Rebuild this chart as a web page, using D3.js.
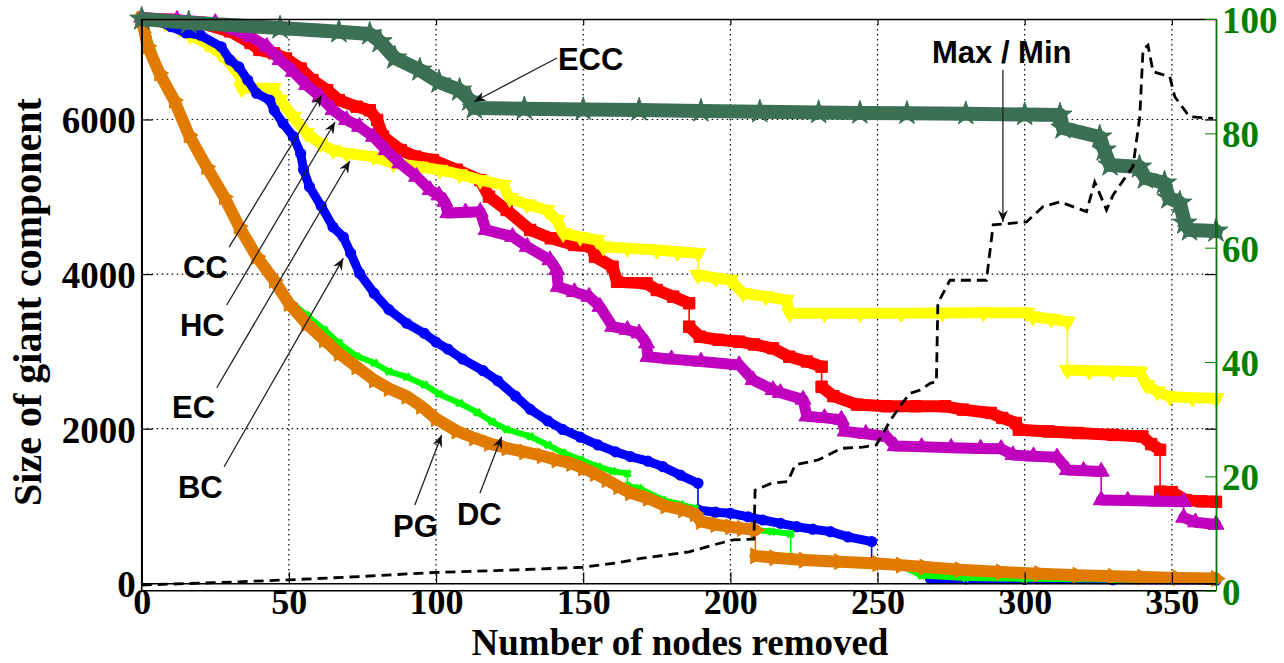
<!DOCTYPE html>
<html>
<head>
<meta charset="utf-8">
<script src="https://cdn.jsdelivr.net/npm/d3@7"></script>
<style>
  body { margin: 0; background: #fff; }
  svg text { font-family: 'Liberation Serif', 'Times New Roman', serif; font-weight: bold; }
  svg text.ann { font-family: 'Liberation Sans', Arial, sans-serif; }
</style>
</head>
<body>
<svg id="chart" width="1284" height="663"></svg>
<script>
// data: [nodes removed, size of giant component]
var ecc = [[0,7300],[16,7252],[47,7184],[67,7136],[77.5,7106],[81,7006],[86,6796],[94.5,6640],[101,6485],[108,6381],[111.5,6252],[113,6149],[130,6140],[150,6130],[169,6123],[190,6110],[210,6100],[230,6090],[244,6084],[260,6080],[280,6075],[300,6065],[312,6058],[313,5890],[325.5,5774],[327,5606],[329,5412],[339,5386],[341,5243],[347.5,5179],[349,4985],[352.7,4920],[354.4,4661],[356,4571],[365,4558]]

var cc = [[0,7300],[10,7290],[20,7250],[30,7140],[37,6990],[40,6900],[45,6856],[49,6790],[54,6660],[58,6510],[63,6380],[67,6250],[73,6166],[77.5,6120],[80,5994],[82,5780],[88,5605],[93,5520],[99,5476],[107,5350],[115,5217],[118,5002],[124,4829],[132,4571],[139,4463],[147,4377],[153,4354],[154,4225],[160,4096],[161.5,3900],[171.5,3880],[175,3794],[180.6,3708],[186,3622],[186,3320],[189.6,3190],[196,3150],[203,3126],[208,3090],[214.5,3040],[220,2931],[226,2870],[231,2802],[231,2543],[235,2421],[243,2312],[253,2290],[263,2290],[273,2290],[279,2247],[288.5,2204],[292.4,2139],[297,2074],[298,1987],[308,1965],[318,1944],[330,1920],[340,1900],[343,1800],[346,1727],[346,1185],[350,1180],[354.8,1076],[360,1060],[365,1054]]

var hc = [[0,7320],[12,7290],[25,7250],[37,7071],[42.5,6942],[47,6770],[51.5,6618],[56,6446],[60.6,6295],[65,6123],[69.6,5994],[74,5907],[78.7,5778],[83,5605],[87.7,5433],[93.4,5260],[98,5088],[101,5020],[103,4937],[104,4790],[110,4800],[115,4807],[117,4571],[126,4484],[131,4354],[138.7,4182],[141,4053],[141.5,3837],[147,3770],[152,3708],[155.7,3578],[160,3320],[165,3280],[169,3234],[171.5,3105],[172,2931],[180,2900],[190,2870],[203,2824],[207.7,2630],[214.5,2501],[217,2464],[224.7,2377],[226,2160],[232,2140],[237.7,2117],[239,1965],[246,1935],[253,1900],[256,1775],[265,1765],[275,1755],[285,1745],[292,1740],[296,1660],[303,1645],[311,1630],[314.5,1466],[320,1455],[326,1445],[326,1076],[335,1070],[345,1060],[354,1055],[354,850],[358,790],[365,760]]

var ec = [[0,7300],[8,7250],[13,7180],[16.4,7093],[22,6986],[26.6,6856],[30,6727],[33.4,6554],[34,6403],[40,6403],[44.7,6403],[47,6252],[51.5,6036],[56,5821],[60.6,5692],[65,5605],[69.6,5563],[78.7,5519],[85.5,5433],[94.5,5389],[101.3,5347],[108,5290],[115,5217],[122.8,5153],[125,4980],[131,4900],[137.6,4829],[141,4700],[143.2,4528],[149,4480],[154.6,4441],[156.8,4354],[165,4335],[175,4312],[182,4290],[189,4269],[189,3988],[195,3950],[200,3924],[204.3,3752],[212,3710],[219,3665],[220.2,3493],[232,3493],[244,3493],[258,3495],[272,3497],[286,3500],[300.6,3500],[302.8,3449],[309,3420],[314.5,3384],[314.5,2759],[322,2750],[330,2745],[339.1,2737],[341.4,2565],[345,2480],[349.3,2414],[357,2400],[365,2393]]

var bc = [[0,7300],[5,7280],[10,7200],[15,7120],[20,7090],[27,6940],[30,6770],[33,6680],[36,6510],[39,6340],[43.5,6250],[45,6120],[48,5950],[51.5,5780],[54,5560],[55,5350],[57,5130],[61,4880],[65,4610],[68.5,4480],[71,4270],[74,4010],[79,3750],[84,3540],[90,3364],[96,3234],[100,3120],[104,3030],[109,2900],[116,2750],[121,2620],[127,2420],[132,2250],[138,2100],[143,1990],[149,1890],[155,1790],[161,1700],[166,1640],[172,1580],[177,1510],[183,1400],[189,1294],[189,950],[195,920],[200,906],[206,860],[211,819],[217,775],[222.5,732],[228,700],[234,668],[240,600],[248,540],[248,270],[258,232],[266,205],[268,60],[280,58],[300,52],[330,45],[365,40]]

var dc = [[0,7300],[2,7100],[6,6650],[11,6300],[16,5830],[22,5420],[28,5030],[33,4650],[39,4260],[45,3950],[50,3660],[56,3470],[62,3280],[67,3110],[73,2940],[79,2850],[84,2740],[90,2670],[96,2570],[101,2450],[108,2330],[114,2210],[119,2091],[124,1990],[132,1900],[138,1790],[143,1690],[149,1600],[155,1510],[160,1450],[165,1420],[165,1260],[169,1230],[177,1080],[183,1020],[188,970],[190,820],[200,740],[208,690],[214,670],[220.5,640],[220.5,340],[230,300],[240,275],[250,250],[258,228],[265,100],[280,68],[300,58],[330,48],[365,40]]

var pg = [[0,7300],[2,6950],[6,6600],[11,6250],[16,5800],[22,5390],[28,5000],[33,4620],[39,4230],[45,3920],[50,3620],[56,3360],[62,3150],[67,2975],[73,2800],[79,2630],[84,2520],[90,2420],[95,2290],[100,2130],[107,1970],[113,1880],[118,1810],[124,1750],[130,1700],[136,1650],[141,1595],[146,1550],[150,1490],[154,1420],[158,1340],[162,1250],[166,1170],[172,1100],[178,1000],[184,950],[188,900],[190,800],[195,760],[200,730],[204,710],[208.5,690],[208.5,355],[215,330],[225,300],[237,280],[250,255],[258,235],[266,210],[278,175],[292,145],[305,125],[318,105],[330,90],[340,80],[352,70],[365,62]]

// right axis: [nodes removed, max / min]
var maxMin = [[0,1.0],[25,1.4],[50,1.9],[75,2.5],[100,3.2],[125,3.6],[150,4.1],[162,4.9],[169,5.6],[186,6.8],[193.5,7.9],[201,8.9],[208,9.0],[208.4,17.6],[214,18.8],[219.5,19.1],[222,22],[230,22.9],[237.7,24.9],[245,25.1],[249.6,25.5],[254.5,29.9],[258,32.5],[261,34.5],[264.5,35.1],[268,36.3],[270,36.5],[270.5,50.3],[274.6,54.3],[287,54.3],[289.3,64],[300.6,64.5],[306.3,67.2],[312,68],[321,66.3],[323.8,71.5],[327.8,66.6],[330,69.2],[336.8,74.2],[339.1,82.9],[340.2,94.6],[341.9,95.4],[343.6,90.8],[349.3,89.9],[351,86.4],[356,82.9],[364,82.6]]

var xTicks = [0, 50, 100, 150, 200, 250, 300, 350]
var yTicks = [0, 2000, 4000, 6000]
var yRightTicks = [0, 20, 40, 60, 80, 100]

var svg = d3.select('#chart')

var x = d3.scaleLinear().domain([0, 365]).range([141.7, 1216])
var y = d3.scaleLinear().domain([0, 7300]).range([583.3, 19])
var yRight = d3.scaleLinear().domain([0, 100]).range([590.7, 19])

var green = '#008000'

// dotted grid
svg.append('g')
  .selectAll('line')
  .data(xTicks.slice(1))
  .enter()
  .append('line')
  .attr('x1', d => x(d)).attr('x2', d => x(d))
  .attr('y1', y(7300)).attr('y2', y(0))
  .attr('stroke', '#000').attr('stroke-width', 1.2)
  .attr('stroke-dasharray', '1.5,3.5')

svg.append('g')
  .selectAll('line')
  .data(yTicks.slice(1))
  .enter()
  .append('line')
  .attr('x1', x(0)).attr('x2', x(365))
  .attr('y1', d => y(d)).attr('y2', d => y(d))
  .attr('stroke', '#000').attr('stroke-width', 1.2)
  .attr('stroke-dasharray', '1.5,3.5')

// series: thin connecting line, thick band, markers
var series = [
  { data: cc, color: '#ff0000', band: 12, symbol: d3.symbolSquare, size: 130, rotate: 0 },
  { data: ec, color: '#ffff00', band: 11, symbol: d3.symbolTriangle, size: 110, rotate: 180 },
  { data: hc, color: '#bf00bf', band: 11, symbol: d3.symbolTriangle, size: 110, rotate: 0 },
  { data: bc, color: '#0000ff', band: 9, symbol: d3.symbolCircle, size: 64, rotate: 0, open: true },
  { data: dc, color: '#00ff00', band: 6, symbol: d3.symbolCross, size: 34, rotate: 45 },
  { data: pg, color: '#e07b00', band: 12, symbol: d3.symbolTriangle, size: 110, rotate: 90 },
  { data: ecc, color: '#3b7055', band: 14, symbol: d3.symbolStar, size: 180, rotate: 0 }
]

var line = d3.line().x(d => x(d[0])).y(d => y(d[1]))

function splitRuns(pts) {
  var runs = [[pts[0]]]
  for (var i = 1; i < pts.length; i++) {
    if (pts[i][0] === pts[i - 1][0]) runs.push([pts[i]])
    else runs[runs.length - 1].push(pts[i])
  }
  return runs
}

series.forEach(s => {
  var g = svg.append('g')
  g.append('path')
    .attr('d', line(s.data))
    .attr('fill', 'none')
    .attr('stroke', s.color)
    .attr('stroke-width', 1.6)

  g.selectAll('.band')
    .data(splitRuns(s.data).filter(r => r.length > 1))
    .enter()
    .append('path')
    .attr('class', 'band')
    .attr('d', line)
    .attr('fill', 'none')
    .attr('stroke', s.color)
    .attr('stroke-width', s.band)
    .attr('stroke-linejoin', 'round')
    .attr('stroke-linecap', 'round')

  g.selectAll('.mk')
    .data(s.data)
    .enter()
    .append('path')
    .attr('class', 'mk')
    .attr('d', d3.symbol().type(s.symbol).size(s.size))
    .attr('transform', d => 'translate(' + x(d[0]) + ',' + y(d[1]) + ') rotate(' + s.rotate + ')')
    .attr('fill', s.open ? 'none' : s.color)
    .attr('stroke', s.color)
    .attr('stroke-width', s.open ? 2.2 : 1)
})

// max / min on right axis
svg.append('path')
  .attr('d', d3.line().x(d => x(d[0])).y(d => yRight(d[1]))(maxMin))
  .attr('fill', 'none')
  .attr('stroke', '#000')
  .attr('stroke-width', 2.8)
  .attr('stroke-dasharray', '10,6')

// axes
var xAxis = d3.axisBottom(x).tickValues(xTicks).tickSize(-11).tickSizeOuter(0).tickPadding(5)
svg.append('g')
  .attr('class', 'x-axis')
  .attr('transform', 'translate(0,' + y(0) + ')')
  .call(xAxis)

svg.append('g')
  .attr('transform', 'translate(0,' + y(7300) + ')')
  .call(d3.axisTop(x).tickValues(xTicks).tickSize(-6).tickSizeOuter(0).tickFormat(''))

var yAxis = d3.axisLeft(y).tickValues(yTicks).tickSize(-11).tickSizeOuter(0).tickPadding(6).tickFormat(d3.format('d'))
svg.append('g')
  .attr('class', 'y-axis')
  .attr('transform', 'translate(' + x(0) + ',0)')
  .call(yAxis)

svg.append('g')
  .attr('transform', 'translate(' + x(365) + ',0)')
  .call(d3.axisRight(y).tickValues(yTicks).tickSize(-11).tickSizeOuter(0).tickFormat(''))

svg.selectAll('.x-axis text').attr('font-size', 36).attr('fill', '#000')
svg.selectAll('.y-axis text').attr('font-size', 37).attr('fill', '#000').attr('dy', '0.36em')
svg.selectAll('.domain').attr('stroke-width', 1.6)
svg.selectAll('.tick line').attr('stroke-width', 1.2)

// lower frame line of the second axes
svg.append('line')
  .attr('x1', x(0)).attr('x2', x(365))
  .attr('y1', yRight(0)).attr('y2', yRight(0))
  .attr('stroke', '#000').attr('stroke-width', 1.6)
svg.append('line')
  .attr('x1', x(0)).attr('x2', x(0))
  .attr('y1', y(7300)).attr('y2', yRight(0))
  .attr('stroke', '#000').attr('stroke-width', 1.6)

var yRightAxis = d3.axisRight(yRight).tickValues(yRightTicks).tickSize(-11).tickSizeOuter(0).tickPadding(6)
var gr = svg.append('g')
  .attr('class', 'y-right')
  .attr('transform', 'translate(' + x(365) + ',0)')
  .call(yRightAxis)
gr.select('.domain').attr('stroke', green)
gr.selectAll('.tick line').attr('stroke', green)
gr.selectAll('text')
  .attr('font-size', 37)
  .attr('fill', green)
  .attr('dy', '0.36em')

// axis titles
svg.append('text')
  .attr('x', 680)
  .attr('y', 655)
  .attr('text-anchor', 'middle')
  .attr('font-size', 37)
  .text('Number of nodes removed')

svg.append('text')
  .attr('transform', 'translate(41,302) rotate(-90)')
  .attr('text-anchor', 'middle')
  .attr('font-size', 40)
  .text('Size of giant component')

// annotations, positions in left-axis data units
var annotations = [
  { label: 'ECC', at: [141.4, 6640], from: [141.1, 6796], to: [112.9, 6230] },
  { label: 'Max / Min', at: [268.5, 6731], from: [292.6, 6640], to: [292.6, 4674] },
  { label: 'CC', at: [14, 3950], from: [29.7, 4350], to: [61.2, 6317] },
  { label: 'HC', at: [13, 3200], from: [28.9, 3600], to: [65.7, 5968] },
  { label: 'EC', at: [10.3, 2139], from: [25.5, 2530], to: [70.7, 5463] },
  { label: 'BC', at: [12.3, 1104], from: [28, 1508], to: [68.5, 4204] },
  { label: 'PG', at: [85.4, 599], from: [92.8, 1013], to: [101.9, 1918] },
  { label: 'DC', at: [107.1, 754], from: [114.9, 1164], to: [122.3, 1897] }
]

svg.append('defs')
  .append('marker')
  .attr('id', 'head')
  .attr('markerUnits', 'userSpaceOnUse')
  .attr('markerWidth', 14).attr('markerHeight', 10)
  .attr('refX', 12).attr('refY', 5)
  .attr('orient', 'auto')
  .append('path')
  .attr('d', 'M0,0 L12,5 L0,10 L4,5 Z')
  .attr('fill', '#111')

svg.append('g')
  .selectAll('line')
  .data(annotations)
  .enter()
  .append('line')
  .attr('x1', d => x(d.from[0])).attr('y1', d => y(d.from[1]))
  .attr('x2', d => x(d.to[0])).attr('y2', d => y(d.to[1]))
  .attr('stroke', '#222').attr('stroke-width', 1.3)
  .attr('marker-end', 'url(#head)')

svg.append('g')
  .selectAll('text')
  .data(annotations)
  .enter()
  .append('text')
  .attr('class', 'ann')
  .attr('x', d => x(d.at[0]))
  .attr('y', d => y(d.at[1]))
  .attr('font-size', 31)
  .attr('fill', '#000')
  .text(d => d.label)
</script>
</body>
</html>
